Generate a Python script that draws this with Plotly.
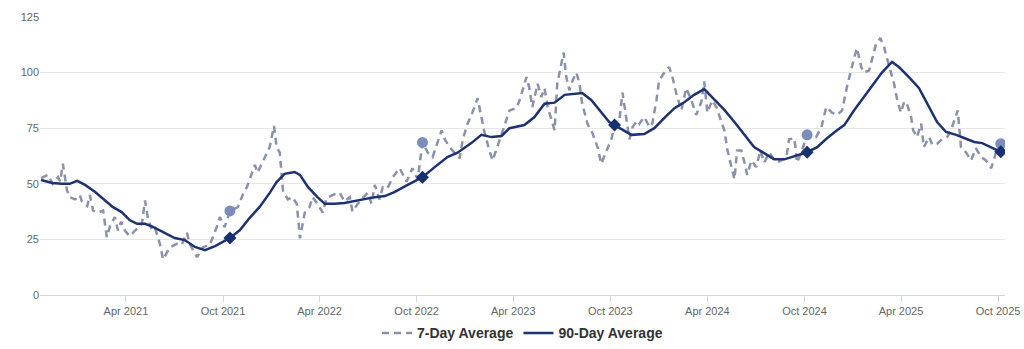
import pandas as pd
import plotly.graph_objects as go

# 7-day rolling average
dates_7d = [
    "2020-10-23", "2020-11-05", "2020-11-14", "2020-11-24", "2020-11-28", "2020-12-03",
    "2020-12-11", "2020-12-16", "2020-12-26", "2021-01-04", "2021-01-08", "2021-01-18",
    "2021-01-23", "2021-01-29", "2021-02-07", "2021-02-17", "2021-02-24", "2021-03-02",
    "2021-03-11", "2021-03-17", "2021-03-23", "2021-03-30", "2021-04-08", "2021-04-14",
    "2021-05-01", "2021-05-07", "2021-05-12", "2021-05-20", "2021-05-26", "2021-06-04",
    "2021-06-10", "2021-06-23", "2021-07-06", "2021-07-15", "2021-07-25", "2021-07-30",
    "2021-08-13", "2021-08-24", "2021-09-06", "2021-09-19", "2021-09-25", "2021-10-04",
    "2021-10-14", "2021-10-29", "2021-11-07", "2021-11-15", "2021-11-30", "2021-12-05",
    "2021-12-19", "2021-12-28", "2022-01-05", "2022-01-10", "2022-01-16", "2022-01-22",
    "2022-01-31", "2022-02-09", "2022-02-17", "2022-02-23", "2022-03-04", "2022-03-13",
    "2022-03-19", "2022-03-28", "2022-04-07", "2022-04-14", "2022-04-26", "2022-05-09",
    "2022-05-18", "2022-05-28", "2022-06-02", "2022-06-12", "2022-06-21", "2022-07-01",
    "2022-07-08", "2022-07-14", "2022-07-23", "2022-07-29", "2022-08-07", "2022-08-17",
    "2022-08-30", "2022-09-12", "2022-09-23", "2022-10-03", "2022-10-12", "2022-10-22",
    "2022-10-31", "2022-11-08", "2022-11-17", "2022-11-23", "2022-12-02", "2022-12-11",
    "2022-12-21", "2022-12-27", "2023-01-05", "2023-01-14", "2023-01-24", "2023-01-31",
    "2023-02-06", "2023-02-15", "2023-02-21", "2023-03-02", "2023-03-16", "2023-03-25",
    "2023-04-07", "2023-04-13", "2023-04-26", "2023-05-01", "2023-05-07", "2023-05-17",
    "2023-05-24", "2023-05-30", "2023-06-05", "2023-06-12", "2023-06-18", "2023-06-23",
    "2023-07-01", "2023-07-05", "2023-07-10", "2023-07-16", "2023-07-22", "2023-07-29",
    "2023-08-04", "2023-08-09", "2023-08-19", "2023-08-28", "2023-09-07", "2023-09-14",
    "2023-09-24", "2023-10-03", "2023-10-09", "2023-10-18", "2023-10-24", "2023-10-29",
    "2023-11-06", "2023-11-12", "2023-11-21", "2023-11-25", "2023-12-04", "2023-12-14",
    "2023-12-19", "2023-12-27", "2024-01-01", "2024-01-11", "2024-01-20", "2024-01-26",
    "2024-02-02", "2024-02-12", "2024-02-21", "2024-03-02", "2024-03-11", "2024-03-21",
    "2024-03-26", "2024-04-01", "2024-04-10", "2024-04-18", "2024-04-27", "2024-05-03",
    "2024-05-09", "2024-05-16", "2024-05-22", "2024-05-27", "2024-06-04", "2024-06-10",
    "2024-06-15", "2024-06-23", "2024-07-02", "2024-07-10", "2024-07-17", "2024-07-27",
    "2024-08-05", "2024-08-14", "2024-08-28", "2024-09-02", "2024-09-12", "2024-09-17",
    "2024-09-25", "2024-10-06", "2024-10-23", "2024-11-02", "2024-11-11", "2024-11-22",
    "2024-12-02", "2024-12-11", "2024-12-20", "2025-01-03", "2025-01-08", "2025-01-16",
    "2025-01-21", "2025-01-31", "2025-02-06", "2025-02-13", "2025-02-21", "2025-02-28",
    "2025-03-10", "2025-03-19", "2025-03-25", "2025-04-01", "2025-04-07", "2025-04-12",
    "2025-04-20", "2025-04-24", "2025-05-01", "2025-05-09", "2025-05-14", "2025-05-24",
    "2025-05-30", "2025-06-08", "2025-06-17", "2025-06-27", "2025-07-04", "2025-07-10",
    "2025-07-17", "2025-07-23", "2025-08-02", "2025-08-11", "2025-08-20", "2025-08-30",
    "2025-09-08", "2025-09-18", "2025-09-27", "2025-10-06",
]
values_7d = [
    52.6, 54, 50, 53, 51, 59,
    47, 44, 43, 45, 42, 40,
    45, 38, 37, 38, 26, 31,
    35, 29, 33, 29, 26.5, 28,
    32, 42.5, 35, 29, 30, 23,
    16, 21.5, 23, 22.5, 28, 23,
    17, 21.5, 22.5, 30.5, 35, 30.5,
    37.8, 39.5, 45, 48.5, 58.5, 55,
    62, 66.5, 76, 66.5, 64, 47,
    43, 44, 41, 25.5, 37, 39.5,
    44, 41, 37, 43.5, 45, 46,
    42, 44, 37.5, 41, 43.5, 46,
    41, 49.5, 43, 48.5, 48, 53,
    57, 51, 57, 52, 68.6, 64,
    62, 68, 74, 70, 66.5, 64,
    61.5, 70, 77, 82, 88.5, 80,
    73, 65, 60.5, 66.5, 77, 83,
    84, 87.5, 98, 93.5, 84.5, 95,
    89, 93, 84.5, 78.5, 74, 95,
    105.5, 109, 98, 92, 96.5, 100,
    95, 86, 77, 73, 66.5, 59,
    65, 70, 76, 78.5, 91, 83,
    70, 75.5, 78.5, 77, 80, 75.5,
    77, 87.5, 96.5, 100, 102.5, 98,
    91, 83, 93, 87.5, 81, 87,
    96, 82, 87.5, 84.5, 78.5, 74,
    65, 57.5, 52, 65, 65, 59.5,
    54, 60.5, 57.5, 65, 59.5, 64,
    60.5, 60, 62, 70, 70.5, 59.5,
    64, 72, 71, 75.5, 84.5, 82,
    81, 83, 93.5, 107, 111, 102.5,
    100, 101, 107, 113, 115.5, 111.5,
    102.5, 95, 87.5, 82, 87, 86,
    80, 74, 71, 77, 66.5, 71,
    67.5, 68, 70, 71, 74, 78.5,
    83, 66.5, 64, 60.5, 66, 62,
    60.5, 57, 64, 68,
]

# 90-day rolling average
dates_90d = [
    "2020-10-23", "2020-11-13", "2020-12-01", "2020-12-16", "2020-12-30", "2021-01-14",
    "2021-02-02", "2021-02-20", "2021-03-07", "2021-03-24", "2021-04-08", "2021-04-22",
    "2021-05-07", "2021-05-22", "2021-06-10", "2021-07-02", "2021-07-21", "2021-08-09",
    "2021-08-28", "2021-09-16", "2021-10-04", "2021-10-14", "2021-11-02", "2021-11-20",
    "2021-12-09", "2021-12-28", "2022-01-10", "2022-01-25", "2022-02-13", "2022-02-23",
    "2022-03-10", "2022-03-28", "2022-04-11", "2022-04-29", "2022-05-18", "2022-06-06",
    "2022-06-25", "2022-07-14", "2022-08-02", "2022-08-20", "2022-09-14", "2022-10-12",
    "2022-11-04", "2022-11-28", "2022-12-17", "2023-01-12", "2023-01-31", "2023-02-19",
    "2023-03-10", "2023-03-25", "2023-04-22", "2023-05-11", "2023-05-30", "2023-06-18",
    "2023-07-07", "2023-07-25", "2023-08-09", "2023-08-26", "2023-09-14", "2023-09-29",
    "2023-10-09", "2023-10-24", "2023-11-10", "2023-12-04", "2023-12-23", "2024-01-11",
    "2024-01-30", "2024-02-18", "2024-03-07", "2024-03-26", "2024-04-14", "2024-05-03",
    "2024-05-22", "2024-06-10", "2024-06-28", "2024-07-17", "2024-08-05", "2024-08-24",
    "2024-09-12", "2024-09-25", "2024-10-06", "2024-10-25", "2024-11-13", "2024-12-02",
    "2024-12-15", "2025-01-03", "2025-01-21", "2025-02-09", "2025-02-24", "2025-03-15",
    "2025-03-28", "2025-04-16", "2025-05-05", "2025-05-24", "2025-06-08", "2025-06-25",
    "2025-07-14", "2025-07-29", "2025-08-17", "2025-09-01", "2025-09-18", "2025-10-06",
]
values_90d = [
    51.7, 50.4, 50, 50, 51.3, 49.5,
    46.3, 42.7, 39.6, 37.3, 33.7, 32,
    32, 30.6, 28.3, 25.6, 24.7, 21.6,
    20.2, 22, 24.3, 25.6, 29.2, 34.6,
    39.6, 45.9, 50.8, 54.5, 55.3, 54,
    48.6, 44, 41, 41, 41.4, 42.3,
    43.2, 44, 44.5, 46.3, 49.5, 53,
    57.5, 62, 64, 68.3, 72, 71,
    71.5, 75, 76.4, 80, 86, 86.5,
    90, 90.4, 90.8, 87.7, 82.3, 77.8,
    76.4, 74.2, 72, 72.4, 75, 79.6,
    84, 86.8, 90, 92.6, 87.7, 83.2,
    77.8, 72, 66.5, 63.8, 61, 61,
    62.5, 63.4, 64.2, 66.5, 70.6, 74.2,
    76.4, 83.2, 89, 95.3, 100, 104.8,
    102.5, 98, 93, 84.5, 77.8, 73.3,
    72, 70.6, 68.8, 68.3, 66.5, 64.4,
]

# Yearly October snapshot dates highlighted on both series
circle_dates = ["2021-10-14", "2022-10-12", "2024-10-06", "2025-10-06"]
diamond_dates = ["2021-10-14", "2022-10-12", "2023-10-09", "2024-10-06", "2025-10-06"]

y_ticks = [0, 25, 50, 75, 100, 125]

s7 = pd.Series(values_7d, index=pd.to_datetime(dates_7d))
s90 = pd.Series(values_90d, index=pd.to_datetime(dates_90d))
circle_vals = [s7[pd.Timestamp(d)] for d in circle_dates]
diamond_vals = [s90[pd.Timestamp(d)] for d in diamond_dates]

FONT = "Liberation Sans, Arial, Helvetica, sans-serif"
C7 = "#8a91a8"
C90 = "#1d3272"

fig = go.Figure()
fig.add_trace(go.Scatter(
    x=s7.index, y=s7.values, mode="lines", name="7-Day Average",
    line=dict(color=C7, width=2.5, dash="7px,5px"),
))
fig.add_trace(go.Scatter(
    x=s90.index, y=s90.values, mode="lines", name="90-Day Average",
    line=dict(color=C90, width=2.5),
))
fig.add_trace(go.Scatter(
    x=pd.to_datetime(circle_dates), y=circle_vals, mode="markers", showlegend=False,
    marker=dict(symbol="circle", size=11, color="#7a8dbb"),
))
fig.add_trace(go.Scatter(
    x=pd.to_datetime(diamond_dates), y=diamond_vals, mode="markers", showlegend=False,
    marker=dict(symbol="diamond", size=10, color="#17306f"),
))

fig.update_layout(
    width=1024, height=349,
    margin=dict(l=40, r=19, t=17, b=54, autoexpand=False),
    paper_bgcolor="white", plot_bgcolor="white",
    font=dict(family=FONT, color="#666666", size=11),
    showlegend=True,
    legend=dict(
        orientation="h", x=0.5, xanchor="center",
        yref="container", y=0.045, yanchor="middle",
        font=dict(family=FONT, size=14, color="#333333", weight="bold"),
        itemwidth=30, tracegroupgap=0,
    ),
    xaxis=dict(
        type="date",
        range=["2020-10-21", "2025-10-14"],
        tick0="2021-04-01", dtick="M6", tickformat="%b %Y",
        showgrid=False, showline=True, linecolor="#ccd6eb", linewidth=1,
        ticks="outside", ticklen=6, tickcolor="#ccd6eb",
        tickfont=dict(size=11, color="#666666"),
        zeroline=False, automargin=False,
    ),
    yaxis=dict(
        range=[0, 125], tickvals=y_ticks,
        showgrid=True, gridcolor="#e6e6e6", gridwidth=1,
        zeroline=False, showline=False, ticks="",
        tickfont=dict(size=11, color="#666666"),
        automargin=False,
    ),
)

fig.write_html("out.html")
